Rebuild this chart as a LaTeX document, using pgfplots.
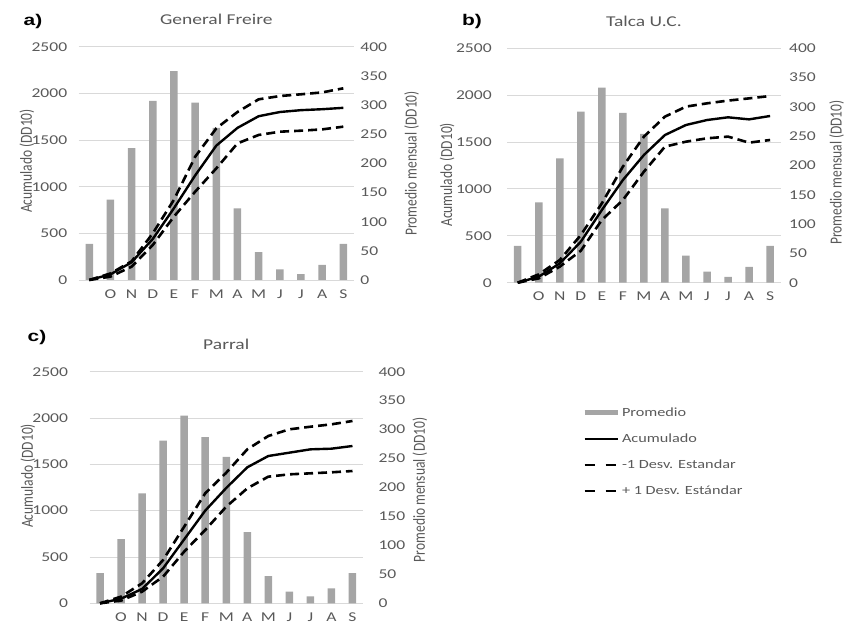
\documentclass[border=0pt]{standalone}
\usepackage{fontspec}
\setmainfont{Carlito}
\newfontfamily\panellab{Liberation Sans}
\usepackage{graphicx}
\usepackage{pgfplots}
\pgfplotsset{compat=1.18}
\definecolor{txtgray}{HTML}{595959}
\definecolor{bargray}{HTML}{A5A5A5}
\definecolor{gridgray}{HTML}{D9D9D9}
\newcommand{\sx}[1]{\scalebox{1.3}[1]{#1}}

\pgfplotsset{
  panel/.style={scale only axis, xmin=-0.5, xmax=12.5, ymin=0,
    axis line style={draw=none}, major tick length=0pt,
    tick label style={font=\fontsize{13.5}{13.5}\selectfont, text=txtgray},
    yticklabel={\sx{\pgfmathprintnumber[assume math mode=true,1000 sep={}]{\tick}}},
    clip=false, anchor=south west},
  leftax/.style={panel, ymax=2500, ytick={0,500,...,2500},
    ymajorgrids, grid style={gridgray, line width=0.9pt},
    xtick={1,...,12}, xticklabels={\sx{O},\sx{N},\sx{D},\sx{E},\sx{F},\sx{M},\sx{A},\sx{M},\sx{J},\sx{J},\sx{A},\sx{S}},
    xticklabel style={yshift=-6pt},
    ylabel style={font=\fontsize{13.5}{13.5}\selectfont, text=txtgray, anchor=center},
    title style={font=\fontsize{15}{15}\selectfont, text=txtgray, at={(axis description cs:0.5,1)}, anchor=center, yshift=21pt}},
  rightax/.style={panel, ymax=400, ytick={0,50,...,400}, yticklabel pos=right,
    xtick=\empty, bar width=7.5pt,
    ylabel style={font=\fontsize{13.5}{13.5}\selectfont, text=txtgray, anchor=center}},
  lineax/.style={panel, ymax=2500, hide axis},
  acum/.style={black, line width=2.4pt},
  sd/.style={black, line width=2.6pt, dash pattern=on 9pt off 5pt},
}

\begin{document}
\begin{tikzpicture}
\path[use as bounding box] (0pt,0pt) rectangle (845pt,627pt);

% ---------------- Panel a ----------------
\begin{axis}[leftax, at={(78.7pt,347pt)}, width=275.2pt, height=233.3pt,
  yticklabel style={xshift=-8pt},
  title={\sx{General Freire}},
  ylabel={\scalebox{1}[1.25]{Acumulado (DD10)}},
  ylabel style={at={(axis description cs:-0.188,0.51)}}]
\end{axis}
\begin{axis}[rightax, at={(78.7pt,347pt)}, width=275.2pt, height=233.3pt,
  yticklabel style={xshift=3pt},
  ylabel={\scalebox{1}[1.25]{Promedio mensual (DD10)}},
  ylabel style={at={(axis description cs:1.21,0.5)}}]
\addplot[ybar, fill=bargray, draw=none] coordinates {
 (0,62) (1,138) (2,226) (3,307) (4,358) (5,304) (6,261) (7,123) (8,48) (9,18) (10,10) (11,26) (12,62)};
\end{axis}
\begin{axis}[lineax, at={(78.7pt,347pt)}, width=275.2pt, height=233.3pt]
\addplot[acum] coordinates {
 (0,0) (1,60) (2,190) (3,440) (4,770) (5,1120) (6,1440) (7,1630) (8,1755) (9,1800) (10,1820) (11,1830) (12,1845)};
\addplot[sd] coordinates {
 (0,0) (1,36) (2,143) (3,375) (4,680) (5,946) (6,1196) (7,1464) (8,1554) (9,1589) (10,1600) (11,1614) (12,1643)};
\addplot[sd] coordinates {
 (0,0) (1,70) (2,200) (3,500) (4,860) (5,1320) (6,1625) (7,1800) (8,1936) (9,1971) (10,1990) (11,2010) (12,2054)};
\end{axis}

% ---------------- Panel b ----------------
\begin{axis}[leftax, at={(507.2pt,344.3pt)}, width=273.4pt, height=234.4pt,
  yticklabel style={xshift=-12pt},
  title={\sx{Talca U.C.}},
  ylabel={\scalebox{1}[1.25]{Acumulado (DD10)}},
  ylabel style={at={(axis description cs:-0.22,0.46)}}]
\end{axis}
\begin{axis}[rightax, at={(507.2pt,344.3pt)}, width=273.4pt, height=234.4pt,
  yticklabel style={xshift=5pt},
  ylabel={\scalebox{1}[1.25]{Promedio mensual (DD10)}},
  ylabel style={at={(axis description cs:1.205,0.47)}}]
\addplot[ybar, fill=bargray, draw=none] coordinates {
 (0,63) (1,137) (2,212) (3,292) (4,333) (5,290) (6,254) (7,127) (8,46) (9,19) (10,10) (11,27) (12,63)};
\end{axis}
\begin{axis}[lineax, at={(507.2pt,344.3pt)}, width=273.4pt, height=234.4pt]
\addplot[acum] coordinates {
 (0,0) (1,64) (2,206) (3,437) (4,775) (5,1095) (6,1362) (7,1575) (8,1682) (9,1735) (10,1764) (11,1742) (12,1778)};
\addplot[sd] coordinates {
 (0,0) (1,46) (2,171) (3,341) (4,669) (5,882) (6,1184) (7,1451) (8,1504) (9,1540) (10,1558) (11,1494) (12,1522)};
\addplot[sd] coordinates {
 (0,0) (1,89) (2,242) (3,508) (4,846) (5,1238) (6,1558) (7,1771) (8,1878) (9,1913) (10,1942) (11,1966) (12,1991)};
\end{axis}

% ---------------- Panel c ----------------
\begin{axis}[leftax, at={(89.5pt,23.7pt)}, width=273.5pt, height=231.6pt,
  yticklabel style={xshift=-18pt},
  title={\sx{Parral}},
  ylabel={\scalebox{1}[1.25]{Acumulado (DD10)}},
  ylabel style={at={(axis description cs:-0.225,0.55)}}]
\end{axis}
\begin{axis}[rightax, at={(89.5pt,23.7pt)}, width=273.5pt, height=231.6pt,
  yticklabel style={xshift=12pt},
  ylabel={\scalebox{1}[1.25]{Promedio mensual (DD10)}},
  ylabel style={at={(axis description cs:1.208,0.49)}}]
\addplot[ybar, fill=bargray, draw=none] coordinates {
 (0,52) (1,111) (2,190) (3,281) (4,324) (5,287) (6,253) (7,123) (8,47) (9,20) (10,12) (11,26) (12,52)};
\end{axis}
\begin{axis}[lineax, at={(89.5pt,23.7pt)}, width=273.5pt, height=231.6pt,
  legend style={draw=none, fill=none, at={(axis description cs:1.80,0.855)}, anchor=north west,
    font=\fontsize{12.5}{12.5}\selectfont, text=txtgray, row sep=12pt, inner sep=0pt},
  legend cell align=left,
  legend image code/.code={\draw[#1] (0pt,0pt) -- (33pt,0pt);}]
\addlegendimage{bargray, line width=5pt}
\addlegendentry{\sx{Promedio}}
\addplot[acum] coordinates {
 (0,0) (1,50) (2,155) (3,378) (4,690) (5,1000) (6,1245) (7,1468) (8,1590) (9,1626) (10,1662) (11,1669) (12,1698)};
\addlegendentry{\sx{Acumulado}}
\addplot[sd, legend image post style={dash pattern=on 10pt off 11pt}] coordinates {
 (0,0) (1,29) (2,126) (3,288) (4,558) (5,791) (6,1043) (7,1241) (8,1367) (9,1392) (10,1403) (11,1414) (12,1428)};
\addlegendentry{\sx{-1 Desv. Estandar}}
\addplot[sd, legend image post style={dash pattern=on 10pt off 11pt}] coordinates {
 (0,0) (1,72) (2,216) (3,468) (4,827) (5,1187) (6,1410) (7,1662) (8,1806) (9,1878) (10,1906) (11,1932) (12,1968)};
\addlegendentry{\sx{+ 1 Desv. Estándar}}
\end{axis}

% panel letters
\node[font=\panellab\bfseries\fontsize{15.5}{15.5}\selectfont] at (33pt,606pt) {\scalebox{1.35}[1]{a)}};
\node[font=\panellab\bfseries\fontsize{15.5}{15.5}\selectfont] at (472pt,606pt) {\scalebox{1.35}[1]{b)}};
\node[font=\panellab\bfseries\fontsize{15.5}{15.5}\selectfont] at (37pt,290pt) {\scalebox{1.35}[1]{c)}};
\end{tikzpicture}
\end{document}
